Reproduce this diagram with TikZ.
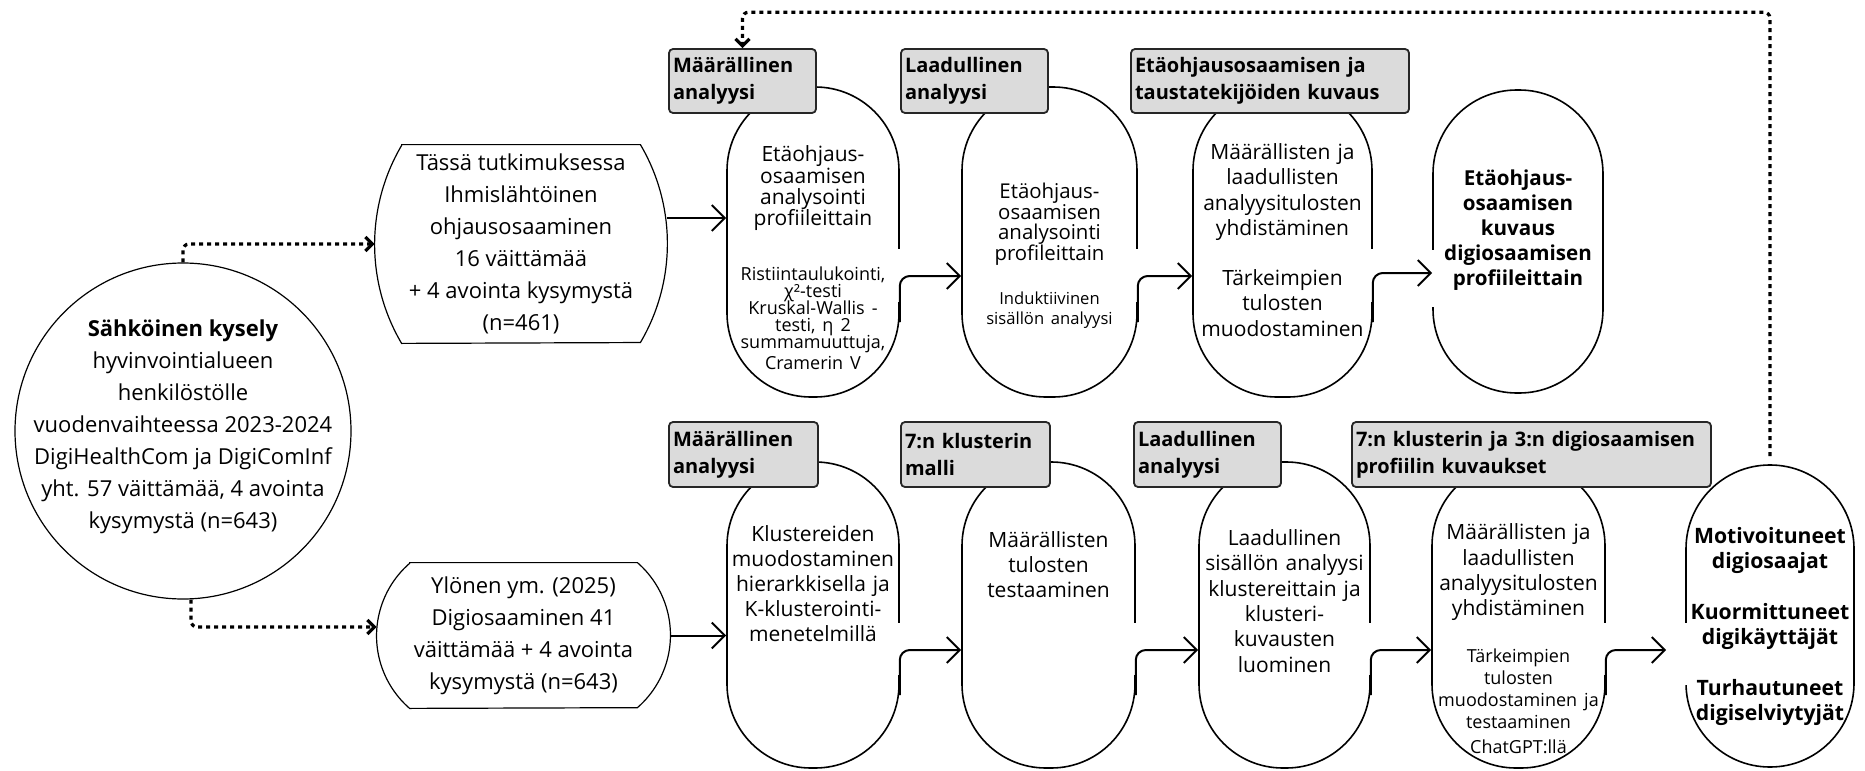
\documentclass[tikz,border=0pt]{standalone}
\usepackage{fontspec}
\setmainfont{Open Sans}
\usepackage{tikz}
\usetikzlibrary{arrows.meta,calc}
\lineskiplimit=-50pt

\begin{document}
\begin{tikzpicture}[x=0.5pt,y=-0.5pt,
    every node/.style={inner sep=0pt},
    src/.style={align=center,font=\fontsize{11}{16}\selectfont},
    outline/.style={line width=0.6pt},
    capsule/.style={draw,fill=white,line width=0.8pt,rounded corners=41.9pt,minimum width=#1,minimum height=155pt},
    captext/.style={text width=100pt,align=center,execute at begin node={\lineskiplimit=-50pt}},
    lab/.style={draw=black!85,fill=black!14,line width=0.9pt,rounded corners=2pt,minimum height=32pt,inner xsep=2pt,text width=#1,align=left,font=\fontsize{10}{13.5}\selectfont\bfseries},
    conn/.style={line width=1pt,rounded corners=5pt,-{Straight Barb[length=6.5pt,width=13pt]}},
    dotconn/.style={line width=1.6pt,dash pattern=on 2pt off 2pt,rounded corners=3pt,-{Straight Barb[length=3.5pt,width=7pt]}},
    gap/.style={white,line width=2.5pt}]
  \useasboundingbox (0,0) rectangle (1865,771);

  % survey and the two data sets
  \node[draw,outline,circle,minimum size=168pt] (survey) at (183,431) {};
  \node[src] (survey-t) at ([yshift=2.25pt]survey.center)
    {\textbf{Sähköinen kysely}\\hyvinvointialueen\\henkilöstölle\\vuodenvaihteessa 2023-2024\\DigiHealthCom ja DigiComInf\\yht. 57 väittämää, 4 avointa\\kysymystä (n=643)};
  \node[src,minimum width=146pt,minimum height=99pt] (ownstudy) at (521,244)
    {Tässä tutkimuksessa\\Ihmislähtöinen\\ohjausosaaminen\\16 väittämää\\+ 4 avointa kysymystä\\(n=461)};
  \draw[outline] ([xshift=13.5pt]ownstudy.north west) -- ([xshift=-13.5pt]ownstudy.north east)
    arc[start angle=30.5,end angle=-30.5,radius=97.5pt]
    -- ([xshift=13.5pt]ownstudy.south west)
    arc[start angle=210.5,end angle=149.5,radius=97.5pt] -- cycle;
  \node[src,minimum width=146.5pt,minimum height=72.5pt] (prevstudy) at (523.5,635.5)
    {Ylönen ym. (2025)\\Digiosaaminen 41\\väittämää + 4 avointa\\kysymystä (n=643)};
  \draw[outline] ([xshift=16.5pt]prevstudy.north west) -- ([xshift=-16.5pt]prevstudy.north east)
    arc[start angle=49,end angle=-49,radius=48.05pt]
    -- ([xshift=16.5pt]prevstudy.south west)
    arc[start angle=229,end angle=131,radius=48.05pt] -- cycle;

  % capsules
  \node[capsule=86pt] (quant1) at (813,242) {};
  \node[capsule=87.5pt] (qual1) at (1049.5,242) {};
  \node[capsule=89.5pt] (synth1) at (1282.5,242) {};
  \node[capsule=85pt,minimum height=151.5pt] (result1) at (1518,241.5) {};
  \node[capsule=86pt,minimum height=153pt] (quant2) at (813,615) {};
  \node[capsule=86.5pt,minimum height=153pt] (model2) at (1048.5,615) {};
  \node[capsule=85.5pt,minimum height=153pt] (qual2) at (1284.5,615) {};
  \node[capsule=86.5pt,minimum height=153pt] (synth2) at (1518.5,615) {};
  \node[capsule=84pt,minimum height=151pt] (result2) at (1770,616) {};

  \foreach \n in {quant1,qual1,synth1}
    \draw[gap] ([yshift=-3.5pt]\n.east) -- ([yshift=-30pt]\n.east);
  \foreach \n in {quant2,model2,qual2,synth2}
    \draw[gap] ([yshift=-4pt]\n.east) -- ([yshift=-30pt]\n.east);
  \draw[gap] ([yshift=-4.25pt]result1.west) -- ([yshift=-32.75pt]result1.west);
  \draw[gap] ([yshift=-3.5pt]result2.west) -- ([yshift=-34.5pt]result2.west);

  % connectors
  \draw[conn] ([yshift=13pt]ownstudy.east) -- ([yshift=13pt]ownstudy.east -| quant1.west);
  \draw[conn] (prevstudy.east) -- (prevstudy.east -| quant2.west);
  \draw[conn] ([yshift=-40pt]quant1.east) |- ([yshift=-17pt]qual1.west);
  \draw[conn] ([yshift=-40pt]qual1.east) |- ([yshift=-17pt]synth1.west);
  \draw[conn] ([yshift=-40pt]synth1.east) |- ([yshift=-15.75pt]result1.west);
  \draw[conn] ([yshift=-40pt]quant2.east) |- ([yshift=-17.5pt]model2.west);
  \draw[conn] ([yshift=-40pt]model2.east) |- ([yshift=-17.5pt]qual2.west);
  \draw[conn] ([yshift=-40pt]qual2.east) |- ([yshift=-17.5pt]synth2.west);
  \draw[conn] ([yshift=-40pt]synth2.east) |- ([xshift=-9.5pt,yshift=-17pt]result2.west);

  % phase labels
  \node[lab=69.5pt] (lab1) at (742.5,81) {Määrällinen\\analyysi};
  \node[lab=69.5pt] (lab2) at (974.5,81) {Laadullinen\\analyysi};
  \node[lab=135pt] (lab3) at (1270,81) {Etäohjausosaamisen ja\\taustatekijöiden kuvaus};
  \node[lab=70.5pt,minimum height=32.5pt] (lab5) at (743.5,454.5) {Määrällinen\\analyysi};
  \node[lab=70.5pt,minimum height=32.5pt] (lab6) at (975.5,454.5) {7:n klusterin\\malli};
  \node[lab=69.5pt,minimum height=32.5pt] (lab7) at (1207.5,454.5) {Laadullinen\\analyysi};
  \node[lab=175.5pt,minimum height=32.5pt] (lab8) at (1531.5,454.5) {7:n klusterin ja 3:n digiosaamisen\\profiilin kuvaukset};

  % capsule texts
  \node[captext,font=\fontsize{10.5}{10.6}\selectfont] (quant1-t) at ([yshift=-8pt]quant1.center)
    {Etäohjaus-\\osaamisen\\analysointi\\profiileittain\par\vspace{19pt}\noindent\fontsize{9}{8.5}\selectfont
     Ristiintaulukointi,\\χ²-testi\\Kruskal-Wallis -\\testi, η 2\\summamuuttuja,\\Cramerin V};
  \node[captext,font=\fontsize{10.2}{10.25}\selectfont] (qual1-t) at ([yshift=-7pt]qual1.center)
    {Etäohjaus-\\osaamisen\\analysointi\\profileittain\par\vspace{11.5pt}\noindent\fontsize{8.3}{10.5}\selectfont
     Induktiivinen\\sisällön analyysi};
  \node[captext,font=\fontsize{10.5}{12.6}\selectfont] (synth1-t) at ([yshift=1pt]synth1.center)
    {Määrällisten ja\\laadullisten\\analyysitulosten\\yhdistäminen\\[12.6pt]Tärkeimpien\\tulosten\\muodostaminen};
  \node[captext,font=\fontsize{10.3}{12.5}\selectfont\bfseries] (result1-t) at ([yshift=5.5pt]result1.center)
    {Etäohjaus-\\osaamisen\\kuvaus\\digiosaamisen\\profiileittain};
  \node[captext,font=\fontsize{10.5}{12.5}\selectfont] (quant2-t) at ([yshift=15.5pt]quant2.center)
    {Klustereiden\\muodostaminen\\hierarkkisella ja\\K-klusterointi-\\menetelmillä};
  \node[captext,font=\fontsize{10.5}{12.5}\selectfont] (model2-t) at ([yshift=25pt]model2.center)
    {Määrällisten\\tulosten\\testaaminen};
  \node[captext,font=\fontsize{10.5}{12.7}\selectfont] (qual2-t) at ([yshift=7pt]qual2.center)
    {Laadullinen\\sisällön analyysi\\klustereittain ja\\klusteri-\\kuvausten\\luominen};
  \node[captext,font=\fontsize{10.5}{12.6}\selectfont] (synth2-t) at ([yshift=-12pt]synth2.center)
    {Määrällisten ja\\laadullisten\\analyysitulosten\\yhdistäminen\par\vspace{12.5pt}\noindent\fontsize{9}{11}\selectfont
     Tärkeimpien\\tulosten\\muodostaminen ja\\testaaminen\\ChatGPT:llä};
  \node[captext,font=\fontsize{10.6}{12.5}\selectfont\bfseries] (result2-t) at ([yshift=-5pt]result2.center)
    {Motivoituneet\\digiosaajat\\[13pt]Kuormittuneet\\digikäyttäjät\\[13pt]Turhautuneet\\digiselviytyjät};

  % dotted links
  \draw[dotconn] (survey.north) |- (ownstudy.west);
  \draw[dotconn] ([xshift=4pt]survey.south) |- ([yshift=4.25pt]prevstudy.west);
  \draw[dotconn,shorten <=4pt] (result2.north) -- ++(0,-452) -| (lab1.north);
\end{tikzpicture}
\end{document}
